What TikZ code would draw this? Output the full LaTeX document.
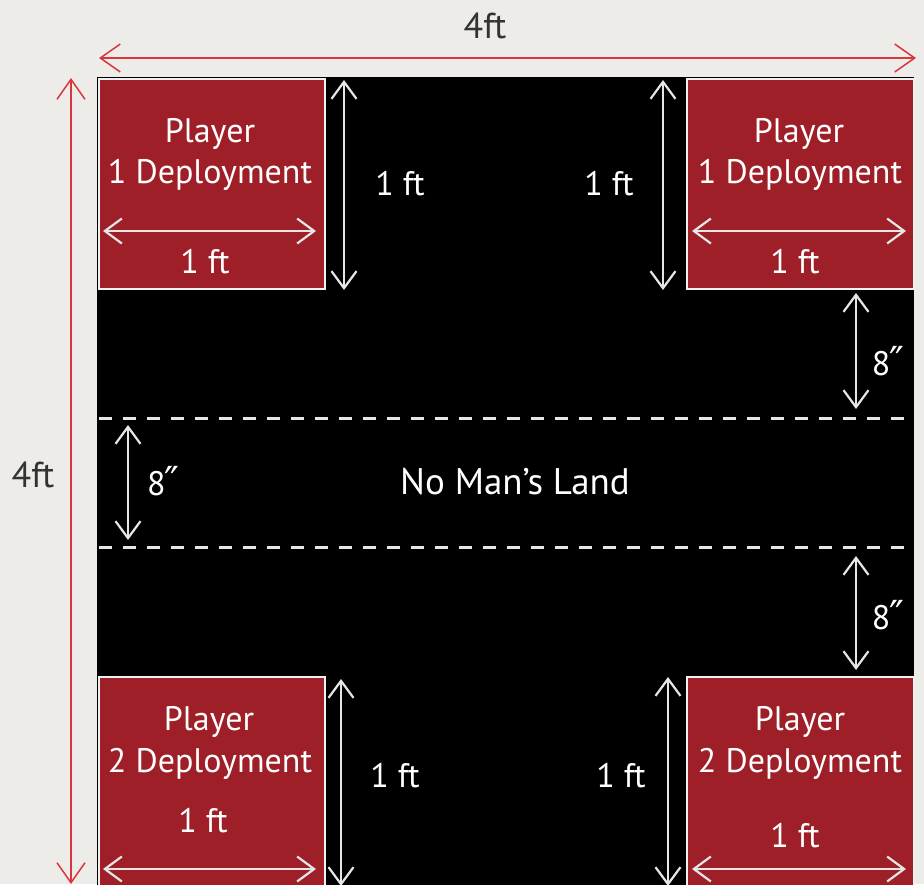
\documentclass[tikz,border=0pt]{standalone}
\usepackage{fontspec}
\setmainfont{PT Sans}
\newfontfamily\symfont{DejaVu Sans}
\usetikzlibrary{arrows.meta}
\definecolor{paper}{HTML}{EEECE9}
\definecolor{deployred}{HTML}{9E1F28}
\definecolor{dimred}{HTML}{D9363E}
\definecolor{dimtext}{HTML}{333333}
\definecolor{lightline}{HTML}{E6E6E6}
\newcommand{\dbl}{{\symfont\fontsize{40}{44}\selectfont\kern-1pt ″}}
\begin{document}
\begin{tikzpicture}[x=1pt,y=-1pt,
  dimw/.style={draw=lightline, line width=2.2pt, {Straight Barb[length=17pt,width=25pt]}-{Straight Barb[length=17pt,width=25pt]}},
  dimr/.style={draw=dimred, line width=1.5pt, {Straight Barb[length=20pt,width=28pt]}-{Straight Barb[length=20pt,width=28pt]}},
  zone/.style={fill=deployred, draw=white!88!gray, line width=1.5pt, anchor=north west, inner sep=0pt},
  lbl/.style={text=white, font=\fontsize{34}{40}\selectfont, inner sep=0pt, anchor=base},
  big/.style={lbl, font=\fontsize{37}{42}\selectfont},
  outer/.style={text=dimtext, font=\fontsize{36}{42}\selectfont, inner sep=0pt, anchor=base},
  split/.style={draw=lightline, line width=3pt, dash pattern=on 13pt off 11pt}
]
\useasboundingbox (0,0) rectangle (924,884);
\fill[paper] (0,0) rectangle (924,884);
% board
\node[fill=black, minimum width=817pt, minimum height=820pt, anchor=north west, inner sep=0pt] (board) at (97,77) {};
\begin{scope}
\clip (0,0) rectangle (924,884);
% deployment zones
\node[zone, minimum width=226pt, minimum height=210pt] (tl) at (98,78) {};
\node[zone, minimum width=227pt, minimum height=210pt] (tr) at (686,78) {};
\node[zone, minimum width=226pt, minimum height=220pt] (bl) at (98,676) {};
\node[zone, minimum width=227pt, minimum height=220pt] (br) at (686,676) {};
% dashed no-man's-land boundaries
\coordinate (d1a) at (99,418); \coordinate (d1b) at (914,418);
\coordinate (d2a) at (99,547); \coordinate (d2b) at (914,547);
\draw[split] (d1a) -- (d1b);
\draw[split] (d2a) -- (d2b);
% outer red dimensions
\coordinate (ta) at (99,58); \coordinate (tb) at (916,58);
\draw[dimr] (ta) -- (tb);
\coordinate (la) at (71,78); \coordinate (lb) at (71,884);
\draw[dimr] (la) -- (lb);
\node[outer] (w4) at (485,38) {4ft};
\node[outer] (h4) at (33,487) {4ft};
% top vertical white dimensions
\coordinate (v1a) at (344,80); \coordinate (v1b) at (344,290);
\draw[dimw] (v1a) -- (v1b);
\coordinate (v2a) at (663,80); \coordinate (v2b) at (663,290);
\draw[dimw] (v2a) -- (v2b);
\node[lbl] (t1) at (400,195) {1 ft};
\node[lbl] (t2) at (609,195) {1 ft};
% bottom vertical white dimensions
\coordinate (v3a) at (341,679); \coordinate (v3b) at (341,886);
\draw[dimw] (v3a) -- (v3b);
\coordinate (v4a) at (668,677); \coordinate (v4b) at (668,886);
\draw[dimw] (v4a) -- (v4b);
\node[lbl] (t3) at (395,787) {1 ft};
\node[lbl] (t4) at (621,787) {1 ft};
% 8 inch dimensions
\coordinate (e1a) at (856,293); \coordinate (e1b) at (856,409);
\draw[dimw] (e1a) -- (e1b);
\coordinate (e2a) at (856,556); \coordinate (e2b) at (856,670);
\draw[dimw] (e2a) -- (e2b);
\coordinate (e3a) at (128,425); \coordinate (e3b) at (128,540);
\draw[dimw] (e3a) -- (e3b);
\node[lbl] (i1) at (888,375) {8\dbl};
\node[lbl] (i2) at (888,629) {8\dbl};
\node[lbl, anchor=base west] (i3) at (147,495) {8\dbl};
\node[big] (nml) at (515,494) {No Man’s Land};
% zone texts
\node[lbl] (p1a) at (210,142) {Player};
\node[lbl] (p1b) at (210,183) {1 Deployment};
\node[lbl] (p1c) at (205,273) {1 ft};
\coordinate (h1a) at (103,231); \coordinate (h1b) at (316,231);
\draw[dimw] (h1a) -- (h1b);
\node[lbl] (p2a) at (799,142) {Player};
\node[lbl] (p2b) at (800,183) {1 Deployment};
\node[lbl] (p2c) at (795,273) {1 ft};
\coordinate (h2a) at (692,231); \coordinate (h2b) at (906,231);
\draw[dimw] (h2a) -- (h2b);
\node[lbl] (p3a) at (209,730) {Player};
\node[lbl] (p3b) at (210,772) {2 Deployment};
\node[lbl] (p3c) at (203,832) {1 ft};
\coordinate (h3a) at (103,869); \coordinate (h3b) at (316,869);
\draw[dimw] (h3a) -- (h3b);
\node[lbl] (p4a) at (800,730) {Player};
\node[lbl] (p4b) at (800,772) {2 Deployment};
\node[lbl] (p4c) at (795,847) {1 ft};
\coordinate (h4a) at (692,869); \coordinate (h4b) at (906,869);
\draw[dimw] (h4a) -- (h4b);
\end{scope}
\end{tikzpicture}
\end{document}
